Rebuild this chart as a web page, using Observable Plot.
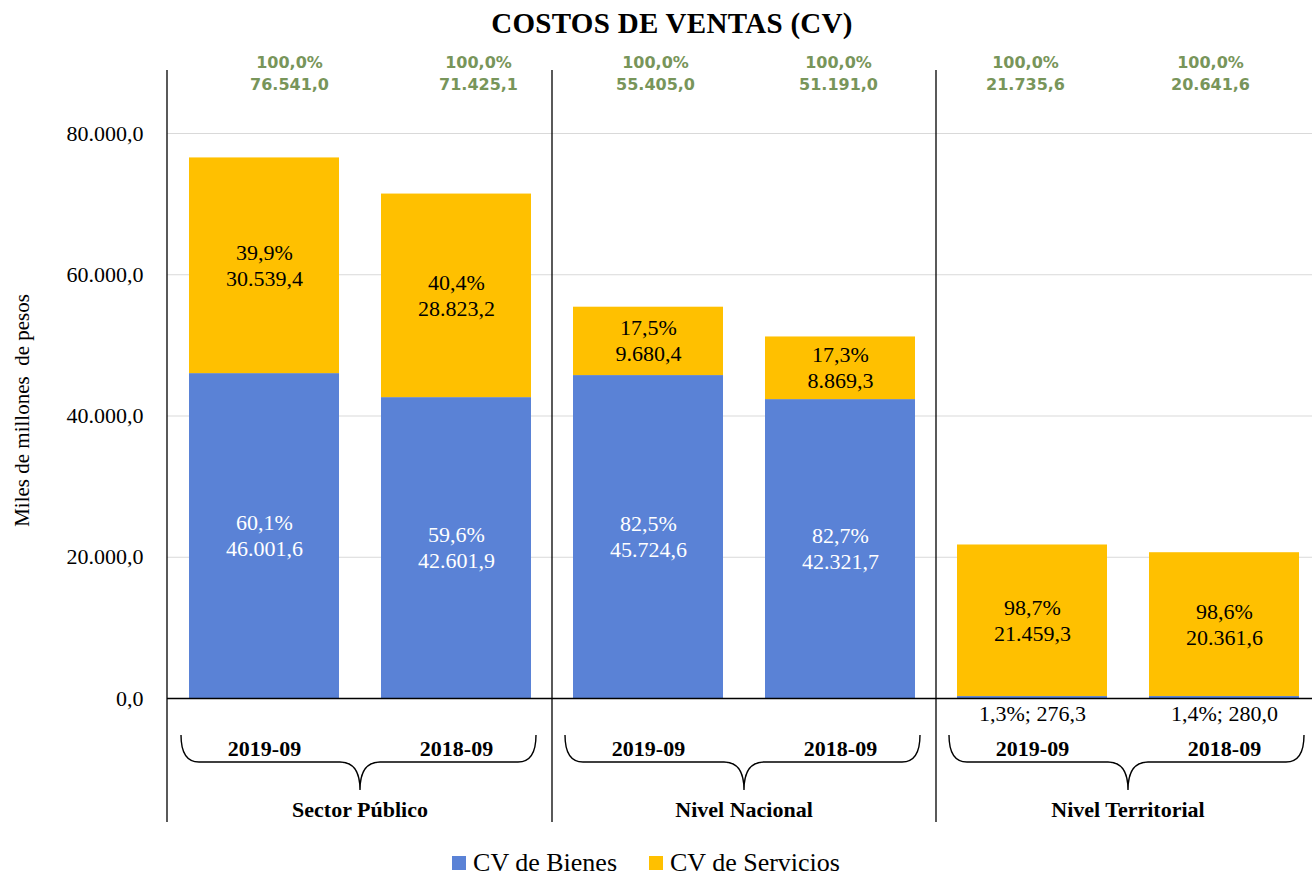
<!DOCTYPE html>
<html><head><meta charset="utf-8">
<script src="https://cdn.jsdelivr.net/npm/d3@7"></script>
<script src="https://cdn.jsdelivr.net/npm/@observablehq/plot@0.6"></script>
<style>
html,body{margin:0;padding:0;background:#fff;overflow:hidden;}
body{font-family:"Liberation Serif","Times New Roman",serif;width:1312px;}
#title{box-sizing:border-box;width:1312px;height:44px;line-height:46px;text-align:center;font-weight:bold;font-size:29px;padding-left:32px;color:#000;letter-spacing:0.3px;}
#chart{height:800px;}
#legend{box-sizing:border-box;width:1312px;height:32px;display:flex;justify-content:center;align-items:center;padding-right:20px;padding-top:6px;font-size:26px;color:#000;}
#legend .item{display:flex;align-items:center;margin:0 16px;}
#legend .sw{width:14px;height:14px;margin-right:7px;display:inline-block;}
</style></head><body>
<div id="title">COSTOS DE VENTAS (CV)</div>
<div id="chart"></div>
<div id="legend"></div>
<script>
// ---- data ----
const groups = ["Sector Público", "Nivel Nacional", "Nivel Territorial"];
const periods = ["2019-09", "2018-09"];
const series = ["CV de Bienes", "CV de Servicios"];
const colors = ["#5a82d6", "#ffc000"];
// order: SP 2019, SP 2018, NN 2019, NN 2018, NT 2019, NT 2018
const bienes = [46001.6, 42601.9, 45724.6, 42321.7, 276.3, 280.0];
const servicios = [30539.4, 28823.2, 9680.4, 8869.3, 21459.3, 20361.6];
const bienesPct = [60.1, 59.6, 82.5, 82.7, 1.3, 1.4];
const serviciosPct = [39.9, 40.4, 17.5, 17.3, 98.7, 98.6];
const totals = [76541.0, 71425.1, 55405.0, 51191.0, 21735.6, 20641.6];
const yTicks = [0, 20000, 40000, 60000, 80000];
// style: horizontal nudges of the green total labels (as placed in the original)
const totalLabelDx = [25, 22, 7, -2, -7, -14];

// ---- build table ----
const keyOf = (g, p) => g + " " + p;
const cells = groups.flatMap((g, gi) => periods.map((p, pi) => ({group: g, period: p, key: keyOf(g, p), i: gi * 2 + pi})));
const keys = cells.map(c => c.key);
const rows = cells.flatMap(c => [
  {key: c.key, series: series[0], value: bienes[c.i], pct: bienesPct[c.i], base: 0},
  {key: c.key, series: series[1], value: servicios[c.i], pct: serviciosPct[c.i], base: bienes[c.i]}
]);

const locale = d3.formatLocale({decimal: ",", thousands: ".", grouping: [3], currency: ["$", ""]});
const fmt = locale.format(",.1f");
const pctFmt = v => locale.format(".1f")(v) + "%";

const inside = rows.filter(r => r.pct >= 5);
const outside = rows.filter(r => r.pct < 5);
const insideB = inside.filter(r => r.series === series[0]);
const insideS = inside.filter(r => r.series === series[1]);
const mid = r => r.base + r.value / 2;

function decorations(index, scales, values, dimensions) {
  const x = scales.x, y = scales.y;
  const bw = typeof x.bandwidth === "function" ? x.bandwidth() : x.bandwidth;
  const step = typeof x.step === "function" ? x.step() : bw / (1 - 0.2196);
  const gap = step - bw;
  const y0 = y(0);
  const top = dimensions.marginTop;
  const bottom = dimensions.height - 22;
  const g = d3.create("svg:g");
  const lineXs = [dimensions.marginLeft, ...groups.slice(1).map(gr => x(keyOf(gr, periods[0])) - gap / 2)];
  g.selectAll("line").data(lineXs).join("line")
    .attr("x1", d => d).attr("x2", d => d).attr("y1", top).attr("y2", bottom)
    .attr("stroke", "black").attr("stroke-width", 1.3);
  groups.forEach(gr => {
    const a = x(keyOf(gr, periods[0])), b = x(keyOf(gr, periods[1])) + bw;
    const l = a - 8, r = b + 5, cx = (a + b) / 2;
    const t = y0 + 37, m = y0 + 64, tip = y0 + 92;
    const rr = 18, rc = 20;
    const d = `M${l},${t} Q${l},${m} ${l + rr},${m} L${cx - rc},${m} Q${cx},${m} ${cx},${tip} ` +
              `Q${cx},${m} ${cx + rc},${m} L${r - rr},${m} Q${r},${m} ${r},${t}`;
    g.append("path").attr("d", d).attr("fill", "none").attr("stroke", "black").attr("stroke-width", 1.4);
    g.append("text").attr("x", cx).attr("y", y0 + 112).attr("dy", "0.32em")
      .attr("text-anchor", "middle").attr("font-weight", "bold").attr("font-size", 22)
      .attr("fill", "black").text(gr);
  });
  return g.node();
}

const green = {fill: "#78955a", fontFamily: "'DejaVu Sans', Verdana, sans-serif", fontWeight: "bold", fontSize: 16, frameAnchor: "top", lineAnchor: "middle", textAnchor: "middle"};
const totalMarks = cells.flatMap((c, i) => [
  Plot.text([c], {x: "key", text: d => pctFmt(bienesPct[d.i] + serviciosPct[d.i]), dy: -8, dx: totalLabelDx[i], ...green}),
  Plot.text([c], {x: "key", text: d => fmt(totals[d.i]), dy: 14, dx: totalLabelDx[i], ...green})
]);

const chart = Plot.plot({
  width: 1312, height: 800,
  marginLeft: 167, marginRight: 0, marginTop: 26, marginBottom: 146,
  style: {fontFamily: "'Liberation Serif', 'Times New Roman', serif", fontSize: "22px", background: "white", color: "black", overflow: "visible"},
  x: {type: "band", domain: keys, range: [167, 1321], paddingInner: 0.2196, paddingOuter: 0.112, axis: null},
  y: {domain: [0, 80000], range: [654, 89]},
  color: {domain: series, range: colors},
  marks: [
    Plot.gridY(yTicks.filter(d => d > 0), {stroke: "#d9d9d9", strokeOpacity: 1, strokeWidth: 1}),
    Plot.axisY(yTicks, {tickSize: 0, tickPadding: 24, tickFormat: fmt, fontSize: 22, label: null, fill: "black"}),
    Plot.barY(rows, {x: "key", y: "value", fill: "series"}),
    Plot.ruleY([0], {stroke: "black", strokeWidth: 1.5}),
    decorations,
    Plot.text(insideB, {x: "key", y: mid, text: r => pctFmt(r.pct), dy: -13, fill: "white", fontSize: 22}),
    Plot.text(insideB, {x: "key", y: mid, text: r => fmt(r.value), dy: 13, fill: "white", fontSize: 22}),
    Plot.text(insideS, {x: "key", y: mid, text: r => pctFmt(r.pct), dy: -13, fill: "black", fontSize: 22}),
    Plot.text(insideS, {x: "key", y: mid, text: r => fmt(r.value), dy: 13, fill: "black", fontSize: 22}),
    Plot.text(outside, {x: "key", y: "base", text: r => pctFmt(r.pct) + "; " + fmt(r.value), dy: 15, fill: "black", fontSize: 22}),
    Plot.text(cells, {x: "key", text: "period", frameAnchor: "bottom", lineAnchor: "middle", dy: 50, fontWeight: "bold", fontSize: 22, fill: "black"}),
    Plot.text(["Miles de millones\u00a0 de pesos"], {frameAnchor: "left", textAnchor: "middle", lineAnchor: "middle", rotate: -90, dx: -145, dy: 26, fontSize: 21, fill: "black"}),
    ...totalMarks
  ]
});
document.getElementById("chart").appendChild(chart);

const legend = document.getElementById("legend");
series.forEach((s, i) => {
  const item = document.createElement("div");
  item.className = "item";
  const sw = document.createElement("span");
  sw.className = "sw";
  sw.style.background = colors[i];
  const t = document.createElement("span");
  t.textContent = s;
  item.appendChild(sw); item.appendChild(t);
  legend.appendChild(item);
});
</script>
</body></html>
